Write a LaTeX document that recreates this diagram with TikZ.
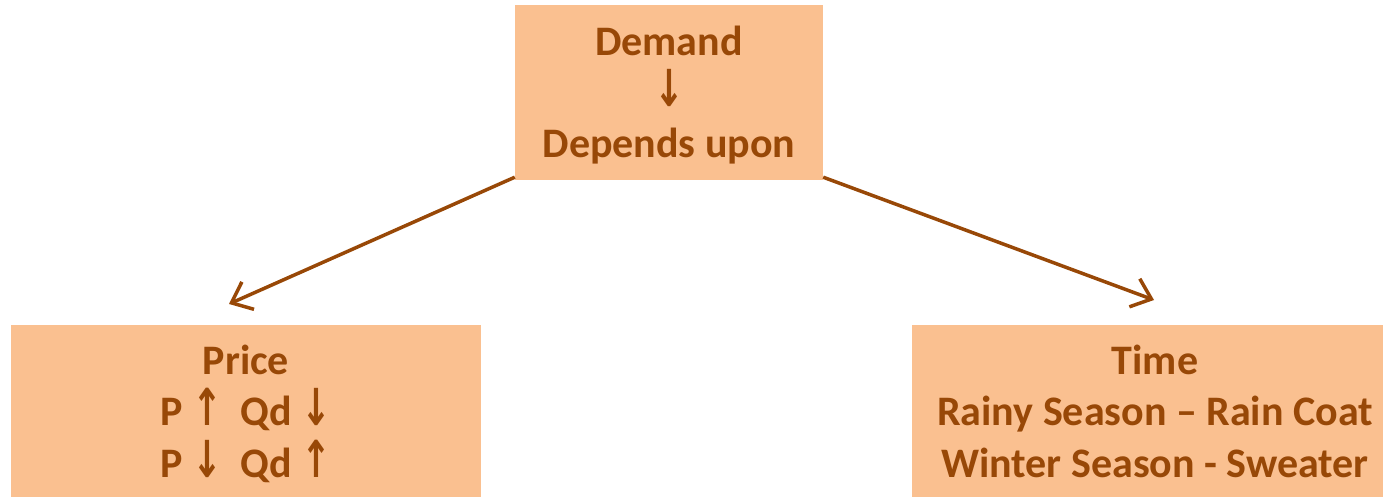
\documentclass[tikz,border=0pt]{standalone}
\usepackage{fontspec}
\setmainfont{Carlito}
\newfontfamily\arrowfont{DejaVu Sans}
\usetikzlibrary{arrows.meta}
\definecolor{boxfill}{HTML}{FAC090}
\definecolor{brown}{HTML}{984807}
\newcommand{\dn}{{\arrowfont\fontsize{34}{51}\selectfont\scalebox{1.05}[1.5]{↓}}}
\newcommand{\upa}{{\arrowfont\fontsize{34}{51}\selectfont\scalebox{1.05}[1.5]{↑}}}
\tikzset{
  box/.style={fill=boxfill, draw=none, rectangle, inner sep=0pt},
  txt/.style={text=brown, font=\bfseries\fontsize{42}{51.3}\selectfont, align=center, inner sep=0pt},
  link/.style={draw=brown, line width=3.5pt, -{Straight Barb[length=18pt, width=30pt, line width=3.5pt]}}
}
\begin{document}
\begin{tikzpicture}[x=1pt, y=-1pt]
\useasboundingbox (0,0) rectangle (1383,497);
\node[box, minimum width=308pt, minimum height=175pt] (top) at (669,92.5) {};
\node[box, minimum width=470pt, minimum height=200pt] (pbox) at (246,425) {};
\node[box, minimum width=486pt, minimum height=200pt] (tbox) at (1155,425) {};
\node[txt, anchor=base] (ttxt) at (669,158) {Demand\\\dn\\Depends upon};
\node[txt, anchor=base] (ptxt) at (246,477) {Price\\P \upa\ \ Qd \dn\\P \dn\ \ Qd \upa};
\node[txt, anchor=base] (tmtxt) at (1155,477) {Time\\Rainy Season – Rain Coat\\Winter Season - Sweater};
\coordinate (la) at (229,304);
\coordinate (ra) at (1154,300);
\draw[link] (top.south west) ++(0,-3) -- (la);
\draw[link] (top.south east) ++(0,-3) -- (ra);
\end{tikzpicture}
\end{document}
